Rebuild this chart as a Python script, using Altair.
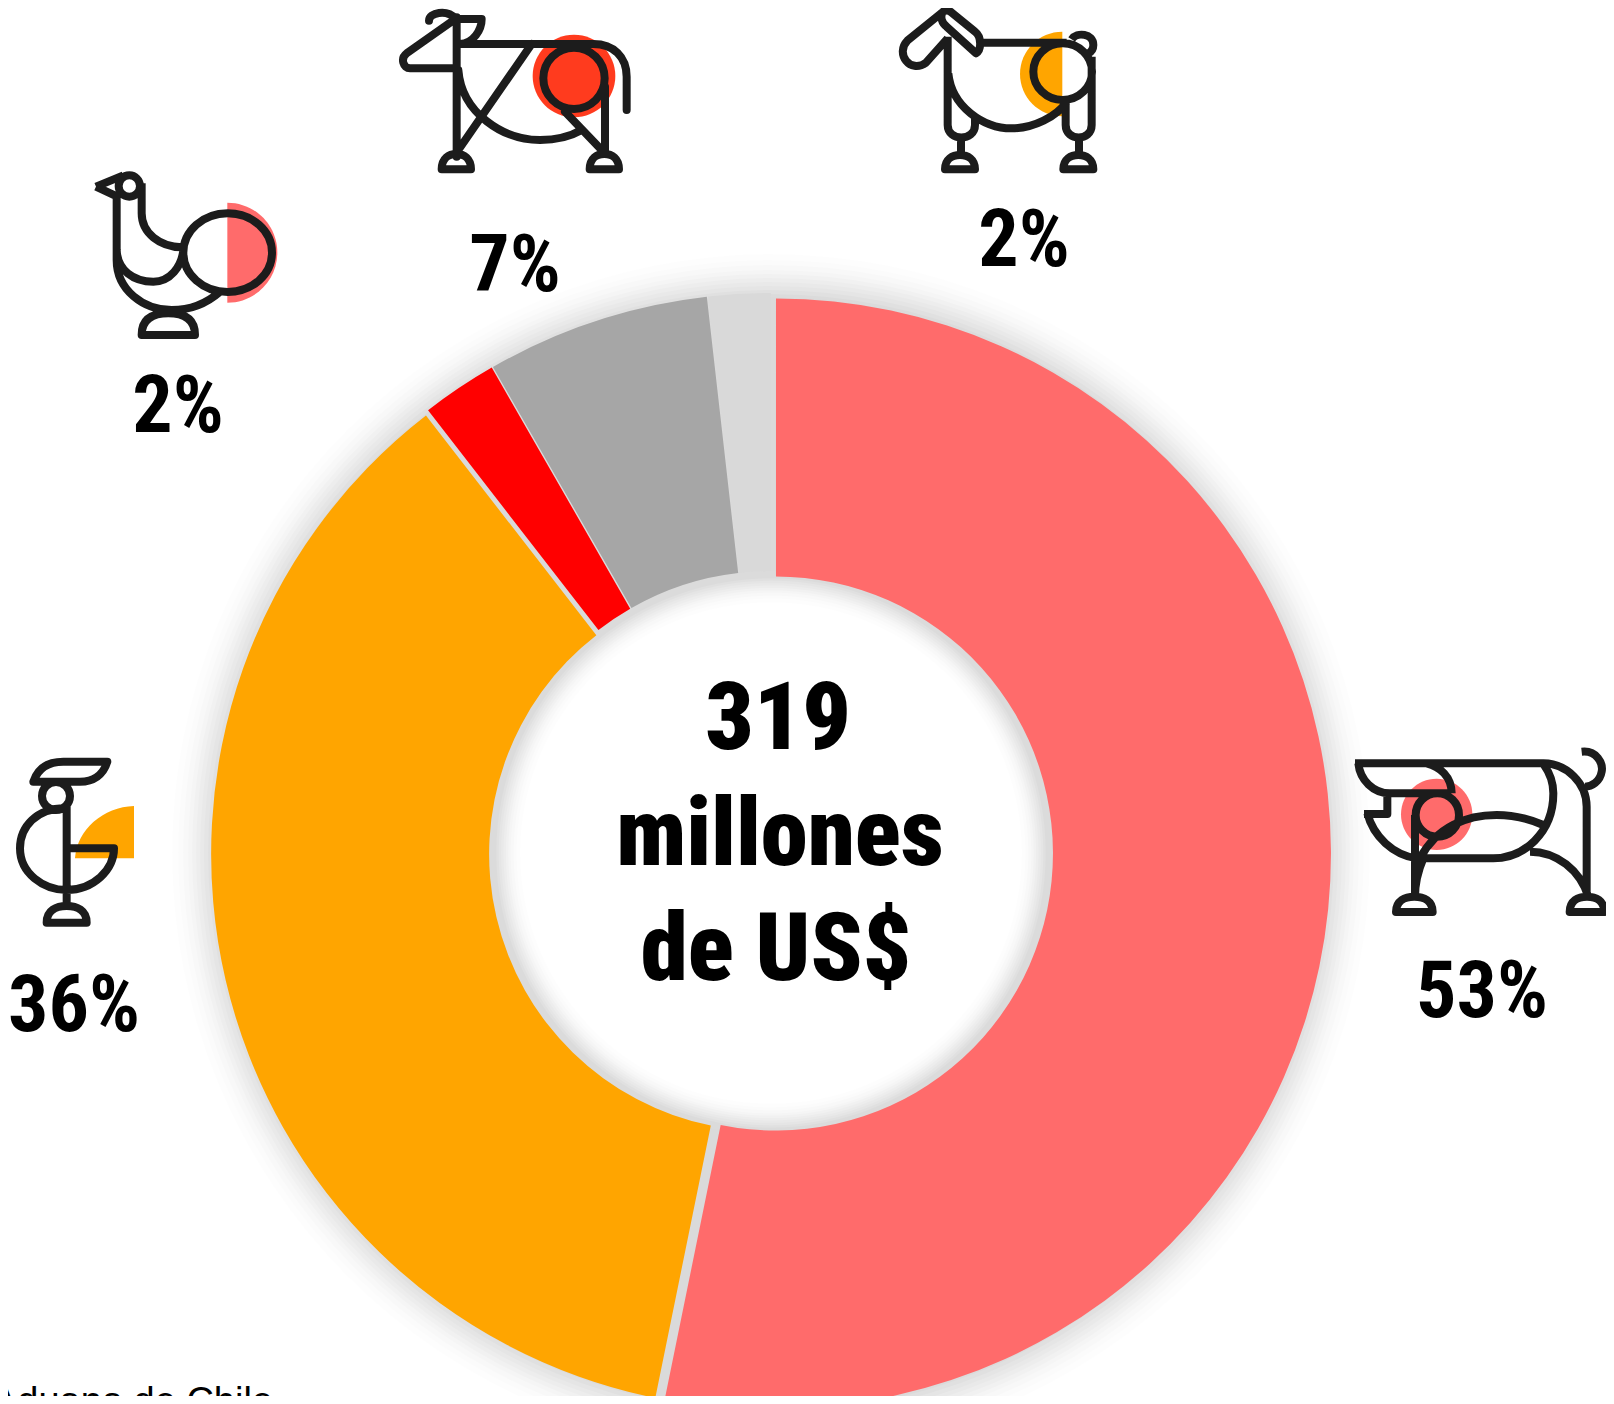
import math
import altair as alt
import pandas as pd

# ---- data ----
categories = ["Cerdo", "Pollo", "Pavo", "Vacuno", "Ovino"]
shares = [53.2, 36.3, 2.2, 6.5, 1.8]
slice_colors = ["#FF6B6B", "#FFA500", "#FF0000", "#A6A6A6", "#D9D9D9"]
percent_labels = ["53%", "36%", "2%", "7%", "2%"]
center_lines = ["319", "millones", "de US$"]
source_text = "Fuente: Aduana de Chile"

W, H = 1598, 1388
CX, CY = 763, 845
R, R_IN, EXPLODE = 555, 277, 5
FONT = "Roboto Condensed"
DARK = "#1C1C1C"
TAU = 2 * math.pi

# ---- donut table ----
rows = []
acc = 0.0
for c, v in zip(categories, shares):
    mid = (acc + v / 2) / 100 * TAU
    rows.append({"cat": c, "start": acc, "end": acc + v,
                 "px": CX + EXPLODE * math.sin(mid),
                 "py": CY - EXPLODE * math.cos(mid)})
    acc += v
donut_df = pd.DataFrame(rows)

one = alt.Data(values=[{"k": 0}])


def ring(outer, inner, color, opacity):
    return alt.Chart(one).mark_arc(radius=outer, radius2=inner, theta=0, theta2=TAU,
                                   color=color, opacity=opacity).encode(
        x=alt.value(CX), y=alt.value(CY))


layers = []
# soft shadow round the ring
for k, op in [(44, .006), (38, .008), (33, .010), (28, .012), (24, .014), (20, .015),
              (16, .016), (12, .017), (8, .018), (4, .018)]:
    layers.append(ring(R + k, max(R_IN - k * 0.6, 1), "#000000", op))
layers.append(ring(R + 1, R_IN + 5, "#DADADA", 1))

layers.append(
    alt.Chart(donut_df).mark_arc(radius=R, radius2=R_IN).encode(
        theta=alt.Theta("start:Q", scale=alt.Scale(domain=[0, 100], range=[0, TAU])),
        theta2="end:Q",
        x=alt.X("px:Q", scale=None, axis=None),
        y=alt.Y("py:Q", scale=None, axis=None),
        color=alt.Color("cat:N", scale=alt.Scale(domain=categories, range=slice_colors), legend=None),
    )
)


# ---- icon helpers: paths in crop pixels, drawn at 1/3 scale ----
def ell(cx, cy, rx, ry=None):
    ry = rx if ry is None else ry
    k = 0.5523
    return (f"M{cx-rx},{cy} C{cx-rx},{cy-k*ry} {cx-k*rx},{cy-ry} {cx},{cy-ry} "
            f"C{cx+k*rx},{cy-ry} {cx+rx},{cy-k*ry} {cx+rx},{cy} "
            f"C{cx+rx},{cy+k*ry} {cx+k*rx},{cy+ry} {cx},{cy+ry} "
            f"C{cx-k*rx},{cy+ry} {cx-rx},{cy+k*ry} {cx-rx},{cy} Z ")


def half(cx, cy, r, side):
    k = 0.5523
    s = side
    return (f"M{cx},{cy-r} C{cx+s*k*r},{cy-r} {cx+s*r},{cy-k*r} {cx+s*r},{cy} "
            f"C{cx+s*r},{cy+k*r} {cx+s*k*r},{cy+r} {cx},{cy+r} Z")


def foot(cx, base, hw, top):
    return (f"M{cx-hw},{base} C{cx-hw},{top+12} {cx-hw*0.5},{top} {cx},{top} "
            f"C{cx+hw*0.5},{top} {cx+hw},{top+12} {cx+hw},{base} Z ")


def icon(ox, oy, path, fill=None, stroke=None, cap="butt"):
    kw = dict(shape=path, size=4 / 9, opacity=1, filled=fill is not None)
    if fill is not None:
        kw["fill"] = fill
        kw["stroke"] = fill
        kw["strokeWidth"] = 0
    else:
        kw["stroke"] = stroke or DARK
        kw["strokeWidth"] = 8
        kw["strokeCap"] = cap
        kw["strokeJoin"] = "round"
    return alt.Chart(one).mark_point(**kw).encode(x=alt.value(ox), y=alt.value(oy))


# turkey
o = (72, 142)
layers.append(icon(*o, half(442, 308, 150, 1), fill="#FF6B6B"))
layers.append(icon(*o,
    ell(443, 308, 133, 118) + ell(148, 108, 32) +
    "M48,110 L130,76 M48,110 L112,140 "
    "M110,130 L110,330 C110,420 190,480 275,480 C330,480 380,460 420,425 "
    "M110,300 C112,360 160,395 220,395 C270,395 305,350 310,300 "
    "M185,100 L185,190 C185,250 240,290 305,292 " + foot(265, 555, 80, 490)))

# cow
o = (382, -8)
layers.append(icon(*o, ell(552, 228, 124), fill="#FF3B1E"))
layers.append(icon(*o,
    ell(552, 235, 92) +
    "M205,132 L610,132 C670,132 710,170 710,230 L710,330 " +
    "M117,62 C117,38 170,26 197,56 L50,160 C30,175 40,205 60,205 L200,205 "
    "M200,52 L200,470 M200,57 L275,57 C275,90 250,130 210,132 "
    "M205,210 C215,340 340,420 450,420 C500,420 540,410 575,390 "
    "M425,132 L205,450 M525,335 L635,450 M645,260 L645,460 " +
    foot(199, 508, 44, 462) + foot(643, 508, 44, 462), cap="round"))

# goat
o = (872, -8)
layers.append(icon(*o, half(547, 222, 127, -1), fill="#FFA500"))
layers.append(icon(*o,
    ell(548, 215, 88, 85) +
    "M300,128 L560,128 M575,118 C590,95 640,100 640,135 C640,145 635,155 625,160 "
    "M188,36 L82,122 C45,160 90,222 138,188 L203,115 "
    "M188,36 C180,50 185,70 200,80 L288,160 C305,150 305,110 285,95 L215,38 C205,28 195,30 188,36 "
    "M203,110 L203,375 C203,425 285,425 285,375 L285,345 "
    "M205,220 C215,320 310,385 395,385 C460,385 530,350 560,305 "
    "M557,300 L557,375 C557,425 635,425 635,375 L635,170 "
    "M243,415 L243,465 M597,420 L597,465 " +
    foot(240, 508, 45, 465) + foot(595, 508, 45, 465)))

# pig
o = (1332, 722)
layers.append(icon(*o, ell(290, 253, 107), fill="#FF6B6B"))
layers.append(icon(*o,
    ell(292, 255, 65) +
    "M45,100 L610,100 C680,100 740,160 740,230 L740,500 "
    "M55,100 C60,150 100,190 150,190 L330,190 M260,100 C300,110 335,140 335,190 "
    "M725,65 C770,60 790,100 785,125 C780,155 755,170 735,170 "
    "M142,190 L142,252 L72,252 "
    "M82,250 C100,320 160,375 230,385 L460,385 C550,385 640,310 640,190 C640,160 630,130 612,105 "
    "M240,385 C290,290 380,255 470,255 C520,255 575,270 610,285 "
    "M225,255 L225,500 M570,365 C650,365 720,420 745,500 M250,385 C235,420 225,460 225,500 " +
    foot(223, 546, 55, 500) + foot(741, 546, 52, 500)))

# rooster
o = (-8, 732)
layers.append(icon(*o, "M402,198 L402,355 L225,355 C230,270 310,200 402,198 Z", fill="#FFA500"))
layers.append(icon(*o,
    "M100,125 C115,80 150,65 190,65 L322,65 C310,105 280,125 240,125 Z " +
    ell(168, 168, 42) +
    "M200,200 L200,490 "
    "M195,205 C110,205 60,260 60,325 C60,400 130,450 200,450 C280,450 342,390 342,325 L205,325 " +
    foot(200, 548, 60, 498)))


# ---- text ----
def txt(s, x, y, size, align="center", font=FONT, weight="bold", color="#000000"):
    return alt.Chart(one).mark_text(text=s, font=font, fontWeight=weight, fontSize=size, align=align,
                                    baseline="alphabetic", color=color).encode(
        x=alt.value(x), y=alt.value(y))


label_pos = [(1474, 1009), (66, 1023), (170, 424), (507, 283), (1016, 258)]
for s, (x, y) in zip(percent_labels, label_pos):
    layers.append(txt(s, x, y, 80))
for s, (x, y) in zip(center_lines, [(770, 741), (772, 857), (768, 972)]):
    layers.append(txt(s, x, y, 95, weight=900))
layers.append(txt(source_text, 265, 1406, 38, align="right", font="Liberation Sans", weight="normal"))

chart = alt.layer(*layers).properties(
    width=W, height=H, padding=0, autosize=alt.AutoSizeParams(type="none"), background="white",
).configure_view(stroke=None)

chart.save("out.html", embed_options={"renderer": "svg", "actions": False})
